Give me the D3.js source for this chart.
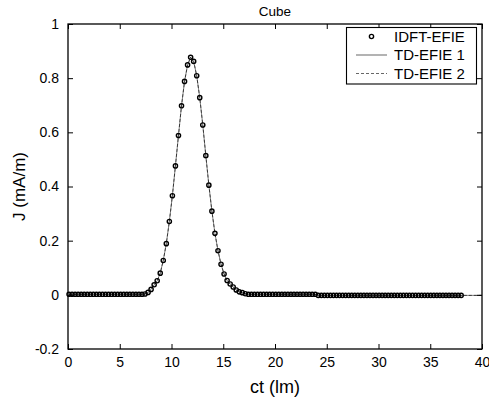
<!DOCTYPE html>
<html>
<head>
<meta charset="utf-8">
<script src="https://cdn.jsdelivr.net/npm/d3@7"></script>
<style>
  html, body { margin: 0; padding: 0; background: #fff; }
  svg { display: block; font-family: "Liberation Sans", Arial, Helvetica, sans-serif; }
</style>
</head>
<body>
<svg id="chart" width="489" height="402"></svg>
<script>
// Surface current on the cube: IDFT-EFIE samples and two TD-EFIE solutions
const chartTitle = "Cube";
const xLabel = "ct (lm)";
const yLabel = "J (mA/m)";
const seriesNames = ["IDFT-EFIE", "TD-EFIE 1", "TD-EFIE 2"];

// IDFT sample grid (ct, in light-metres)
const sampleStart = 0.1;
const sampleStep = 0.2937;
const ctEnd = 40;

// IDFT-EFIE current samples (mA/m), one per grid point
const jIdft = [
  0.002, 0.002, 0.002, 0.002, 0.002, 0.002, 0.002, 0.002, 0.002, 0.002,
  0.002, 0.002, 0.002, 0.002, 0.002, 0.002, 0.002, 0.002, 0.002, 0.002,
  0.002, 0.002, 0.002, 0.002, 0.002,
  0.003, 0.009, 0.020, 0.037, 0.052, 0.080, 0.127, 0.189, 0.271, 0.366,
  0.476, 0.588, 0.698, 0.788, 0.849, 0.877, 0.862, 0.809, 0.728, 0.627,
  0.514, 0.405, 0.309, 0.227, 0.163, 0.113, 0.077, 0.053, 0.040, 0.029,
  0.018, 0.011, 0.008, 0.004, 0.002,
  0.002, 0.002, 0.002, 0.002, 0.002, 0.002, 0.002, 0.002, 0.002, 0.002,
  0.002, 0.002, 0.002, 0.002, 0.002, 0.002, 0.002, 0.002, 0.002, 0.002,
  0.002, 0.002,
  -0.002, -0.002, -0.002, -0.002, -0.002, -0.002, -0.002, -0.002, -0.002, -0.002,
  -0.002, -0.002, -0.002, -0.002, -0.002, -0.002, -0.002, -0.002, -0.002, -0.002,
  -0.002, -0.002, -0.002, -0.002, -0.002, -0.002, -0.002, -0.002, -0.002, -0.002,
  -0.002, -0.002, -0.002, -0.002, -0.002, -0.002, -0.002, -0.002, -0.002, -0.002,
  -0.002, -0.002, -0.002, -0.002, -0.002, -0.002, -0.002, -0.002
];

// TD-EFIE solutions follow the same curve and run on to the end of the window
const tdEfie1 = jIdft.concat([-0.002]);
const tdEfie2 = jIdft.concat([-0.002]);

const xTicks = [0, 5, 10, 15, 20, 25, 30, 35, 40];
const yTicks = [-0.2, 0, 0.2, 0.4, 0.6, 0.8, 1];
const yTickLabels = ["-0.2", "0", "0.2", "0.4", "0.6", "0.8", "1"];

const ctSamples = jIdft.map((_, i) => sampleStart + i * sampleStep);
const ctLine = ctSamples.concat([ctEnd]);

const svg = d3.select("#chart");
const plot = { left: 68, right: 482, top: 24, bottom: 349 };

const x = d3.scaleLinear().domain([0, 40]).range([plot.left, plot.right]);
const y = d3.scaleLinear().domain([-0.2, 1]).range([plot.bottom, plot.top]);

const tickLen = 5;
const tickFont = 14;

// Axes: bottom/left carry labels, top/right are bare inward ticks
const axBottom = d3.axisBottom(x).tickValues(xTicks).tickSizeInner(-tickLen).tickSizeOuter(0)
  .tickPadding(tickLen + 3).tickFormat(d3.format("d"));
const axTop = d3.axisTop(x).tickValues(xTicks).tickSizeInner(-tickLen).tickSizeOuter(0).tickFormat("");
const axLeft = d3.axisLeft(y).tickValues(yTicks).tickSizeInner(-tickLen).tickSizeOuter(0)
  .tickPadding(tickLen + 4).tickFormat((d, i) => yTickLabels[i]);
const axRight = d3.axisRight(y).tickValues(yTicks).tickSizeInner(-tickLen).tickSizeOuter(0).tickFormat("");

function styleAxis(g) {
  g.select(".domain").remove();
  g.selectAll(".tick line").attr("stroke", "#000").attr("stroke-width", 1);
  g.selectAll(".tick text").attr("fill", "#000").attr("font-size", tickFont)
    .attr("font-family", "Liberation Sans, Arial, sans-serif");
}

svg.append("g").attr("transform", `translate(0,${plot.bottom})`).call(axBottom).call(styleAxis);
svg.append("g").attr("transform", `translate(0,${plot.top})`).call(axTop).call(styleAxis);
svg.append("g").attr("transform", `translate(${plot.left},0)`).call(axLeft).call(styleAxis);
svg.append("g").attr("transform", `translate(${plot.right},0)`).call(axRight).call(styleAxis);

// Curves
const line = d3.line().x(d => x(d[0])).y(d => y(d[1]));
svg.append("path")
  .datum(ctLine.map((t, i) => [t, tdEfie1[i]]))
  .attr("d", line).attr("fill", "none").attr("stroke", "#000").attr("stroke-width", 0.5);
svg.append("path")
  .datum(ctLine.map((t, i) => [t, tdEfie2[i]]))
  .attr("d", line).attr("fill", "none").attr("stroke", "#000").attr("stroke-width", 0.6)
  .attr("stroke-dasharray", "3,2");

svg.append("g").selectAll("circle")
  .data(ctSamples.map((t, i) => [t, jIdft[i]]))
  .join("circle")
  .attr("cx", d => x(d[0])).attr("cy", d => y(d[1])).attr("r", 2.1)
  .attr("fill", "none").attr("stroke", "#000").attr("stroke-width", 1.4);

// Frame
svg.append("rect")
  .attr("x", plot.left).attr("y", plot.top)
  .attr("width", plot.right - plot.left).attr("height", plot.bottom - plot.top)
  .attr("fill", "none").attr("stroke", "#000").attr("stroke-width", 1.3);

// Title and axis labels
svg.append("text").attr("x", (plot.left + plot.right) / 2).attr("y", 16)
  .attr("text-anchor", "middle").attr("font-size", 13.5).text(chartTitle);
svg.append("text").attr("x", (plot.left + plot.right) / 2).attr("y", 393)
  .attr("text-anchor", "middle").attr("font-size", 18).text(xLabel);
svg.append("text")
  .attr("transform", `translate(25,${(plot.top + plot.bottom) / 2}) rotate(-90)`)
  .attr("text-anchor", "middle").attr("font-size", 17).text(yLabel);

// Legend
const lg = svg.append("g");
lg.append("rect").attr("x", 346.5).attr("y", 27.5).attr("width", 130).attr("height", 56.5)
  .attr("fill", "#fff").attr("stroke", "#000").attr("stroke-width", 1.1);
const rowY = [36.5, 55, 73.5];
lg.append("circle").attr("cx", 371.5).attr("cy", rowY[0]).attr("r", 2.1)
  .attr("fill", "none").attr("stroke", "#000").attr("stroke-width", 1.4);
lg.append("line").attr("x1", 356).attr("x2", 387).attr("y1", rowY[1]).attr("y2", rowY[1])
  .attr("stroke", "#000").attr("stroke-width", 0.6);
lg.append("line").attr("x1", 356).attr("x2", 387).attr("y1", rowY[2]).attr("y2", rowY[2])
  .attr("stroke", "#000").attr("stroke-width", 0.6).attr("stroke-dasharray", "3,2");
lg.selectAll("text.lab").data(seriesNames).join("text").attr("class", "lab")
  .attr("x", 394).attr("y", (d, i) => rowY[i] + 5)
  .attr("font-size", 15).text(d => d);
</script>
</body>
</html>
